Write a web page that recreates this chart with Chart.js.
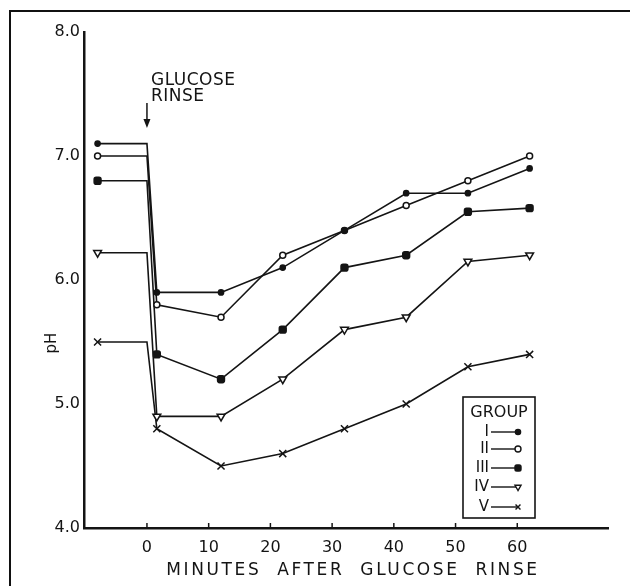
<!DOCTYPE html>
<html>
<head>
<meta charset="utf-8">
<script src="https://cdn.jsdelivr.net/npm/chart.js@4/dist/chart.umd.min.js"></script>
<style>
  body { margin: 0; background: #fff; }
  canvas { display: block; }
</style>
</head>
<body>
<canvas id="phChart" width="630" height="586"></canvas>
<script>
// minutes after glucose rinse (first point = resting pH before rinse)
const times = [-8, 0, 1.6, 12, 22, 32, 42, 52, 62];
const groupI = [7.1, 7.1, 5.9, 5.9, 6.1, 6.4, 6.7, 6.7, 6.9];
const groupII = [7.0, 7.0, 5.8, 5.7, 6.2, 6.4, 6.6, 6.8, 7.0];
const groupIII = [6.8, 6.8, 5.4, 5.2, 5.6, 6.1, 6.2, 6.55, 6.58];
const groupIV = [6.22, 6.22, 4.9, 4.9, 5.2, 5.6, 5.7, 6.15, 6.2];
const groupV = [5.5, 5.5, 4.8, 4.5, 4.6, 4.8, 5.0, 5.3, 5.4];
const groupNames = ['I', 'II', 'III', 'IV', 'V'];
const xTicks = [0, 10, 20, 30, 40, 50, 60];

const INK = '#141414';
const FONT = '"DejaVu Sans", sans-serif';

const markers = [
  { pointStyle: 'circle', radius: 2.6, fill: INK, rotation: 0 },
  { pointStyle: 'circle', radius: 3, fill: '#fff', rotation: 0 },
  { pointStyle: 'rectRounded', radius: 4, fill: INK, rotation: 0 },
  { pointStyle: 'triangle', radius: 4.5, fill: '#fff', rotation: 180 },
  { pointStyle: 'crossRot', radius: 5, fill: INK, rotation: 0 }
];

function makeSet(name, values, i) {
  const m = markers[i];
  return {
    label: name,
    data: times.map((t, k) => ({ x: t, y: values[k] })),
    showLine: true,
    borderColor: INK,
    borderWidth: 1.6,
    pointStyle: m.pointStyle,
    pointRotation: m.rotation,
    pointRadius: times.map((t, k) => k === 1 ? 0 : m.radius),
    pointBackgroundColor: m.fill,
    pointBorderColor: INK,
    pointBorderWidth: 1.5,
    tension: 0
  };
}

const decorations = {
  id: 'decorations',
  beforeDraw(chart) {
    const ctx = chart.ctx;
    ctx.save();
    ctx.fillStyle = '#fff';
    ctx.fillRect(0, 0, chart.width, chart.height);
    // outer frame
    ctx.strokeStyle = '#111';
    ctx.lineWidth = 2;
    ctx.beginPath();
    ctx.moveTo(10, chart.height);
    ctx.lineTo(10, 11);
    ctx.lineTo(chart.width, 11);
    ctx.stroke();
    ctx.restore();
  },
  afterDraw(chart) {
    const ctx = chart.ctx;
    const xs = chart.scales.x;
    const ys = chart.scales.y;
    ctx.save();
    ctx.strokeStyle = INK;
    ctx.fillStyle = INK;

    // small ticks above the x axis
    ctx.lineWidth = 1.5;
    xTicks.forEach(v => {
      const px = xs.getPixelForValue(v);
      ctx.beginPath();
      ctx.moveTo(px, ys.bottom);
      ctx.lineTo(px, ys.bottom - 5);
      ctx.stroke();
    });

    // glucose rinse note + arrow
    const x0 = xs.getPixelForValue(0);
    ctx.font = '17px ' + FONT;
    ctx.letterSpacing = '0.5px';
    ctx.textBaseline = 'alphabetic';
    ctx.textAlign = 'left';
    ctx.fillText('GLUCOSE', x0 + 4, 85);
    ctx.fillText('RINSE', x0 + 4, 101);
    ctx.letterSpacing = '0px';
    ctx.lineWidth = 1.5;
    ctx.beginPath();
    ctx.moveTo(x0, 103);
    ctx.lineTo(x0, 122);
    ctx.stroke();
    ctx.beginPath();
    ctx.moveTo(x0 - 3.5, 119);
    ctx.lineTo(x0 + 3.5, 119);
    ctx.lineTo(x0, 128);
    ctx.closePath();
    ctx.fill();

    // axis titles
    ctx.font = '17px ' + FONT;
    ctx.textAlign = 'center';
    ctx.textBaseline = 'middle';
    ctx.letterSpacing = '2.6px';
    ctx.fillText('MINUTES  AFTER  GLUCOSE  RINSE', 353, 571);
    ctx.letterSpacing = '0px';
    ctx.save();
    ctx.translate(52, 343);
    ctx.rotate(-Math.PI / 2);
    ctx.font = '15px ' + FONT;
    ctx.fillText('pH', 0, 0);
    ctx.restore();

    // legend box
    const bx = 463, by = 397, bw = 72, bh = 121;
    ctx.lineWidth = 1.6;
    ctx.strokeRect(bx, by, bw, bh);
    ctx.font = '16px ' + FONT;
    ctx.textAlign = 'center';
    ctx.fillText('GROUP', bx + bw / 2, 413);
    const rowY = [432, 449, 468, 487, 507];
    ctx.font = '15px ' + FONT;
    chart.data.datasets.forEach((ds, i) => {
      const y = rowY[i];
      ctx.textAlign = 'right';
      ctx.fillStyle = INK;
      ctx.fillText(ds.label, 489, y);
      ctx.lineWidth = 1.4;
      ctx.beginPath();
      ctx.moveTo(491, y);
      ctx.lineTo(518, y);
      ctx.stroke();
      const m = markers[i];
      ctx.fillStyle = m.fill;
      ctx.lineWidth = 1.4;
      if (Chart.helpers && Chart.helpers.drawPoint) {
        Chart.helpers.drawPoint(ctx, {
          pointStyle: m.pointStyle,
          rotation: m.rotation,
          radius: Math.min(m.radius, 3.5),
          borderWidth: 1.4
        }, 518, y);
      }
    });
    ctx.restore();
  }
};

new Chart(document.getElementById('phChart'), {
  type: 'scatter',
  data: {
    datasets: [
      makeSet(groupNames[0], groupI, 0),
      makeSet(groupNames[1], groupII, 1),
      makeSet(groupNames[2], groupIII, 2),
      makeSet(groupNames[3], groupIV, 3),
      makeSet(groupNames[4], groupV, 4)
    ]
  },
  options: {
    responsive: false,
    animation: false,
    devicePixelRatio: 1,
    layout: { padding: { top: 32, right: 22, left: 0, bottom: 0 } },
    plugins: {
      legend: { display: false },
      tooltip: { enabled: false }
    },
    scales: {
      x: {
        type: 'linear',
        min: -10.2,
        max: 74.7,
        afterFit(scale) { scale.height = 58; },
        afterBuildTicks(scale) { scale.ticks = xTicks.map(v => ({ value: v })); },
        grid: { display: false, drawTicks: false },
        border: { display: true, color: INK, width: 2.5 },
        ticks: {
          padding: 10,
          color: INK,
          font: { family: FONT, size: 16 },
          maxRotation: 0,
          autoSkip: false
        }
      },
      y: {
        type: 'linear',
        min: 4,
        max: 8,
        afterFit(scale) { scale.width = 84; },
        grid: { display: false, drawTicks: false },
        border: { display: true, color: INK, width: 2.5 },
        ticks: {
          stepSize: 1,
          padding: 4,
          color: INK,
          font: { family: FONT, size: 16 },
          callback: v => v.toFixed(1)
        }
      }
    }
  },
  plugins: [decorations]
});
</script>
</body>
</html>
